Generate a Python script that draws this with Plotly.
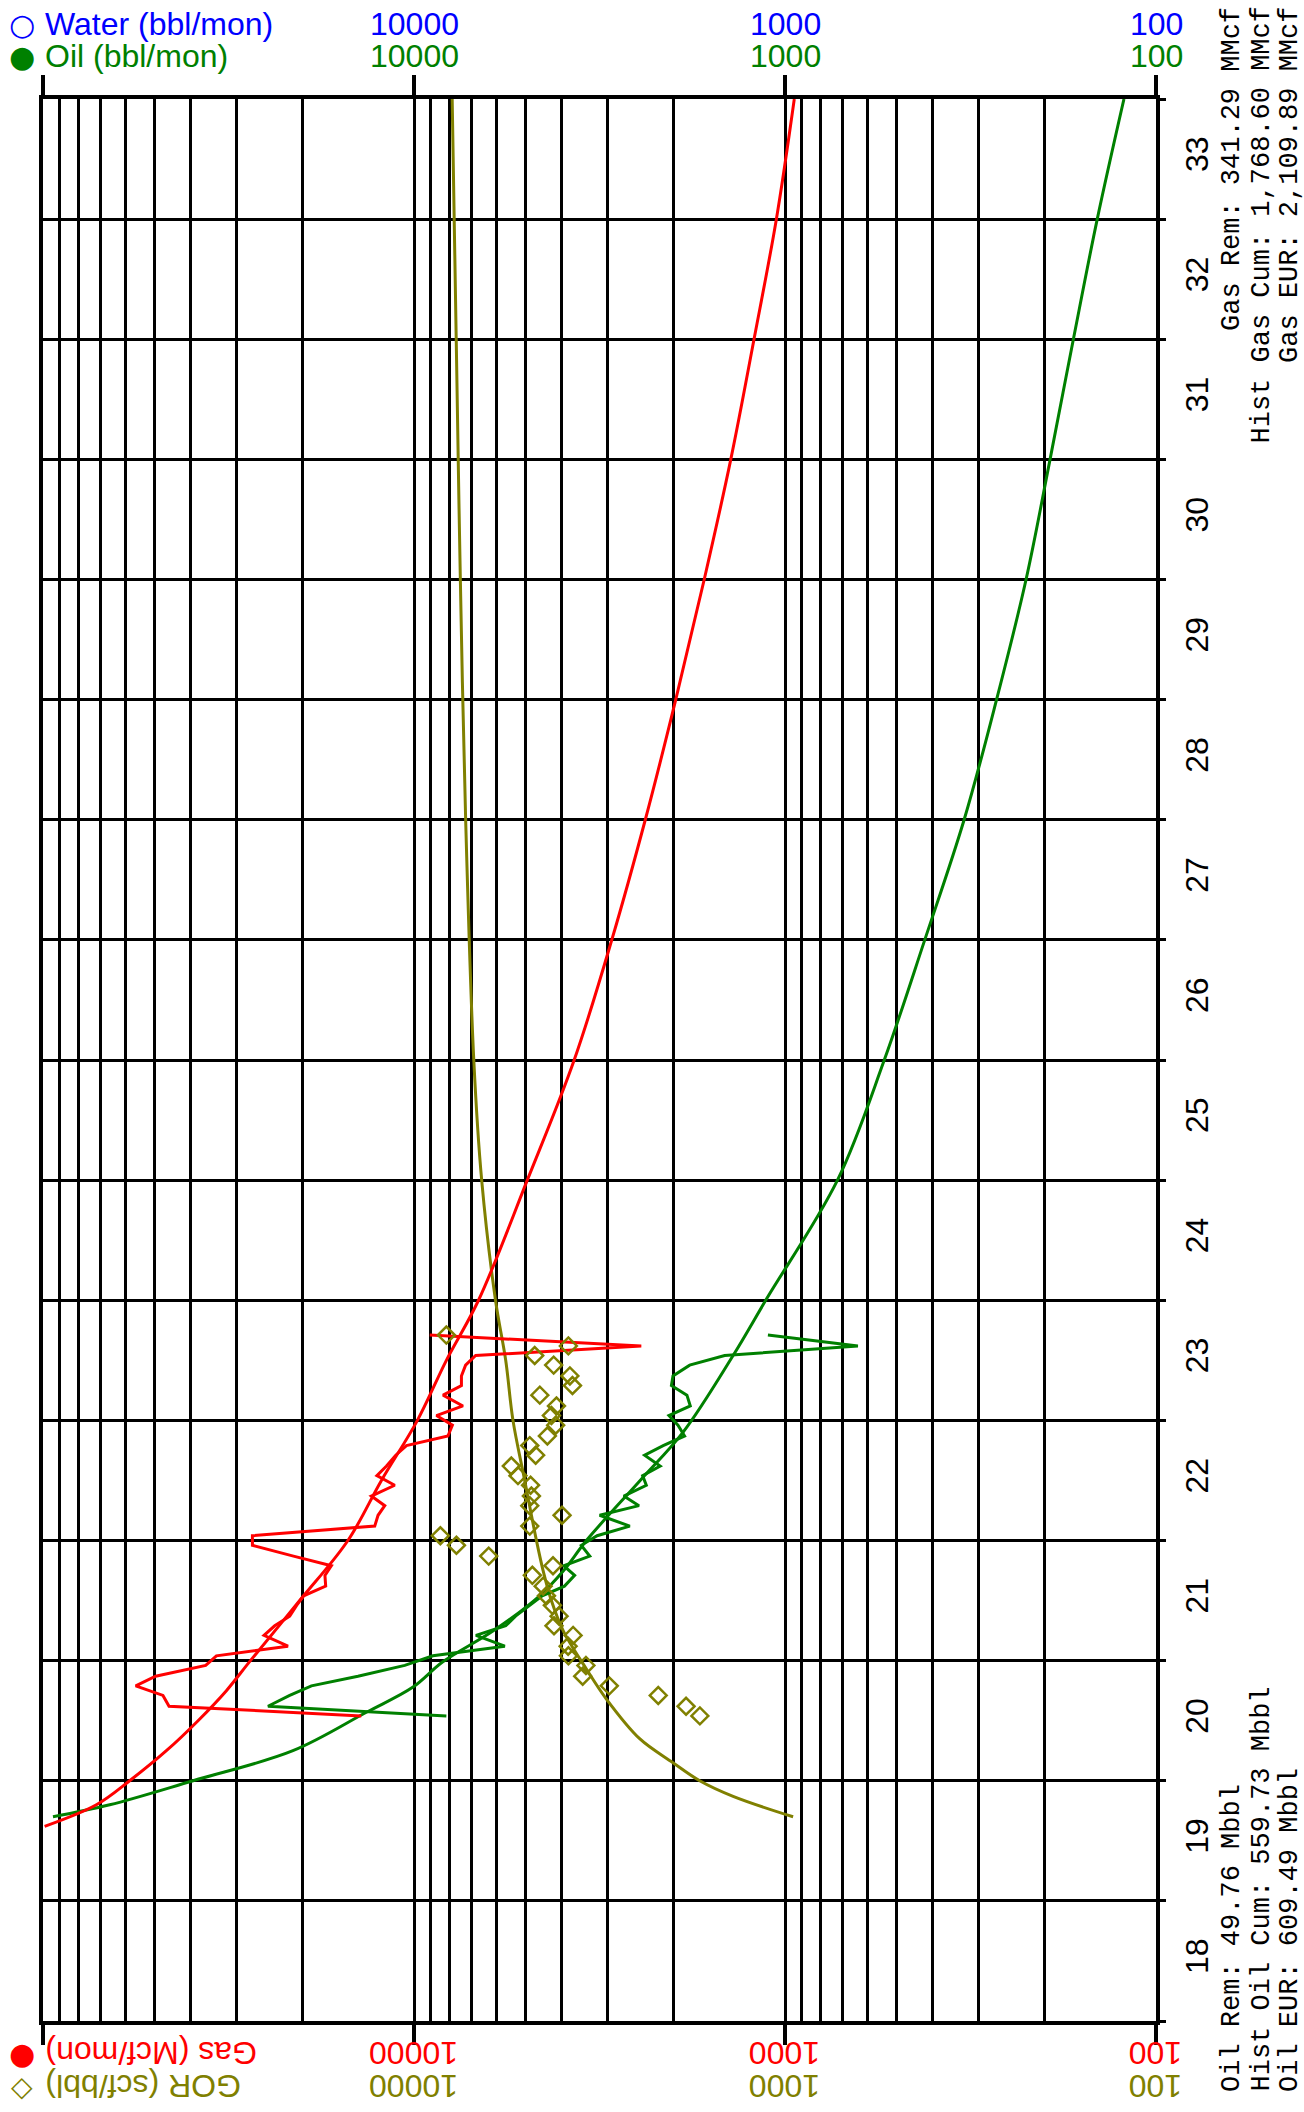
import math
import plotly.graph_objects as go

# ---------------- data (decimal year, values) ----------------
months = [20.54, 20.62, 20.71, 20.79, 20.87, 20.96, 21.04, 21.12, 21.21, 21.29,
          21.37, 21.46, 21.54, 21.62, 21.71, 21.79, 21.87, 21.96, 22.04, 22.12,
          22.21, 22.29, 22.37, 22.46, 22.54, 22.62, 22.71, 22.79, 22.87, 22.96,
          23.04, 23.12, 23.21, 23.29, 23.37, 23.46, 23.54, 23.62, 23.71]

gas_mcf = [13870, 45740, 47500, 56250, 49700, 36430, 34090, 21860, 25370, 23740,
           21630, 20720, 19830, 17300, 17380, 16700, 21130, 27260, 27260, 12760,
           12500, 11990, 13030, 11270, 12590, 11860, 11200, 10480, 8100, 7880,
           8700, 7380, 8350, 7450, 7450, 7260, 6820, 2440, 9070]

oil_bbl = [8180, 24750, 21630, 18900, 14160, 10590, 8890, 5690, 6810, 5660,
           5324, 4890, 4512, 3930, 3690, 3950, 3360, 3540, 3210, 2620,
           3160, 2475, 2720, 2365, 2420, 2170, 2390, 2130, 1865, 1943,
           2055, 1800, 1838, 2024, 2004, 1807, 1454, 636, 1112]

gor_scf = [1696, 1848, 2196, 2976, 3510, 3440, 3835, 3842, 3725, 4194,
           4063, 4237, 4395, 4486, 4797, 4220, 6290, 7685, 8490, 4875,
           3990, 4875, 4826, 4850, 5245, 5466, 4700, 4875, 4370, 4150,
           4263, 4130, 4580, 3740, 3800, 4203, 4728, 3836, 8180]

# forecast curves
gas_fit_t = [19.62, 19.8, 20.0, 20.25, 20.5, 20.75, 21.0, 21.5, 22.0, 22.5, 23.0,
             23.5, 24, 25, 26, 27, 28, 29, 30, 31, 32, 33, 34]
gas_fit = [99000, 71800, 58400, 46500, 38200, 32040, 27600, 20330, 15070, 12240, 9790,
           8180, 6700, 4950, 3700, 2930, 2380, 1970, 1651, 1400, 1212, 1055, 944]

oil_fit_t = [19.70, 19.8, 20.0, 20.25, 20.57, 20.78, 20.99, 21.25, 21.54, 21.75, 22.0,
             22.5, 22.9, 23.54, 24.01, 25, 26, 27, 28, 29, 30, 31, 32, 33, 34]
oil_fit = [94000, 66100, 39400, 21200, 13440, 10060, 8360, 6100, 4585, 3950, 3430,
           2457, 1884, 1380, 1122, 722, 540, 420, 329, 269, 224, 193, 167, 144, 122]

gor_fit_t = [19.70, 19.87, 20.0, 20.15, 20.35, 20.68, 20.93, 21.25, 21.5, 21.75, 22.0,
             22.5, 23.0, 23.5, 24, 25, 26, 28, 30, 32, 34]
gor_fit = [951, 1380, 1698, 2004, 2465, 3030, 3430, 3963, 4263, 4488, 4677,
           5030, 5410, 5660, 6030, 6570, 6900, 7257, 7500, 7695, 7890]

year_labels = ["18", "19", "20", "21", "22", "23", "24", "25", "26", "27",
               "28", "29", "30", "31", "32", "33"]
value_ticks = [100, 1000, 10000]
value_tick_text = ["100", "1000", "10000"]

oil_summary = ["Oil Rem: 49.76 Mbbl", "Hist Oil Cum: 559.73 Mbbl", "Oil EUR: 609.49 Mbbl"]
gas_summary = ["Gas Rem: 341.29 MMcf", "Hist Gas Cum: 1,768.60 MMcf", "Gas EUR: 2,109.89 MMcf"]

# ---------------- styling ----------------
RED = "#FF0000"
GREEN = "#008000"
OLIVE = "#808000"
BLUE = "#0000FF"
SANS = "Liberation Sans, Arial, sans-serif"
MONO = "Liberation Mono, Courier New, monospace"
FS = 32

fig = go.Figure()

fig.add_trace(go.Scatter(x=oil_fit, y=oil_fit_t, mode="lines", line_shape="spline",
                         line=dict(color=GREEN, width=3), showlegend=False))
fig.add_trace(go.Scatter(x=gor_fit, y=gor_fit_t, mode="lines", line_shape="spline",
                         line=dict(color=OLIVE, width=3), showlegend=False))
fig.add_trace(go.Scatter(x=gas_fit, y=gas_fit_t, mode="lines", line_shape="spline",
                         line=dict(color=RED, width=3), showlegend=False))
fig.add_trace(go.Scatter(x=oil_bbl, y=months, mode="lines",
                         line=dict(color=GREEN, width=3), showlegend=False))
fig.add_trace(go.Scatter(x=gas_mcf, y=months, mode="lines",
                         line=dict(color=RED, width=3), showlegend=False))
fig.add_trace(go.Scatter(x=gor_scf, y=months, mode="markers",
                         marker=dict(symbol="diamond-open", size=13, color=OLIVE,
                                     line=dict(width=2.5, color=OLIVE)),
                         showlegend=False))

minor_vals = [m * 10 ** e for e in (2, 3, 4) for m in range(2, 10)]

fig.update_xaxes(type="log", range=[5, 2], automargin=False,
                 tickvals=value_ticks + [100000], showticklabels=False,
                 showgrid=True, gridcolor="black", gridwidth=2.5,
                 ticks="outside", ticklen=20, tickwidth=3.5, tickcolor="black",
                 showline=True, linecolor="black", linewidth=4, mirror="ticks",
                 zeroline=False,
                 minor=dict(tickvals=minor_vals, showgrid=True, gridcolor="black",
                            gridwidth=2.5, ticks=""))

fig.update_yaxes(range=[18, 34], side="right", automargin=False,
                 tickvals=[y + 0.5 for y in range(18, 34)], ticktext=year_labels,
                 tickangle=-90, tickfont=dict(family=SANS, size=FS, color="black"),
                 ticklabelstandoff=10,
                 showgrid=False, ticks="",
                 showline=True, linecolor="black", linewidth=4, mirror=True,
                 zeroline=False,
                 minor=dict(tick0=18, dtick=1, showgrid=True, gridcolor="black",
                            gridwidth=2.5, ticks="outside", ticklen=6, tickwidth=2.5,
                            tickcolor="black"))

TOP1, TOP2 = 75, 43
BOT1, BOT2 = -32, -65

ann = []
# top value labels (water / oil) and bottom labels (gas / GOR, upside down)
for v, txt in zip(value_ticks, value_tick_text):
    ann.append(dict(x=math.log10(v), xref="x", y=1, yref="paper", yshift=TOP1,
                    text=txt, showarrow=False, xanchor="center", yanchor="middle",
                    font=dict(family=SANS, size=FS, color=BLUE)))
    ann.append(dict(x=math.log10(v), xref="x", y=1, yref="paper", yshift=TOP2,
                    text=txt, showarrow=False, xanchor="center", yanchor="middle",
                    font=dict(family=SANS, size=FS, color=GREEN)))
    ann.append(dict(x=math.log10(v), xref="x", y=0, yref="paper", yshift=BOT1,
                    text=txt, showarrow=False, xanchor="center", yanchor="middle",
                    textangle=180, font=dict(family=SANS, size=FS, color=RED)))
    ann.append(dict(x=math.log10(v), xref="x", y=0, yref="paper", yshift=BOT2,
                    text=txt, showarrow=False, xanchor="center", yanchor="middle",
                    textangle=180, font=dict(family=SANS, size=FS, color=OLIVE)))

# legend-like labels
ann += [
    dict(x=0, xref="paper", y=1, yref="paper", xshift=-21, yshift=TOP1, text="○",
         showarrow=False, xanchor="center", yanchor="middle",
         font=dict(family="DejaVu Sans", size=30, color=BLUE)),
    dict(x=0, xref="paper", y=1, yref="paper", yshift=TOP1, text="Water (bbl/mon)",
         showarrow=False, xanchor="left", yanchor="middle",
         font=dict(family=SANS, size=FS, color=BLUE)),
    dict(x=0, xref="paper", y=1, yref="paper", xshift=-21, yshift=TOP2, text="●",
         showarrow=False, xanchor="center", yanchor="middle",
         font=dict(family="DejaVu Sans", size=30, color=GREEN)),
    dict(x=0, xref="paper", y=1, yref="paper", yshift=TOP2, text="Oil (bbl/mon)",
         showarrow=False, xanchor="left", yanchor="middle",
         font=dict(family=SANS, size=FS, color=GREEN)),
    dict(x=0, xref="paper", y=0, yref="paper", xshift=-21, yshift=BOT1, text="●",
         showarrow=False, xanchor="center", yanchor="middle",
         font=dict(family="DejaVu Sans", size=30, color=RED)),
    dict(x=0, xref="paper", y=0, yref="paper", yshift=BOT1, text="Gas (Mcf/mon)",
         showarrow=False, xanchor="left", yanchor="middle", textangle=180,
         font=dict(family=SANS, size=FS, color=RED)),
    dict(x=0, xref="paper", y=0, yref="paper", xshift=-21, yshift=BOT2, text="◇",
         showarrow=False, xanchor="center", yanchor="middle",
         font=dict(family="DejaVu Sans", size=28, color=OLIVE)),
    dict(x=0, xref="paper", y=0, yref="paper", yshift=BOT2, text="GOR (scf/bbl)",
         showarrow=False, xanchor="left", yanchor="middle", textangle=180,
         font=dict(family=SANS, size=FS, color=OLIVE)),
]

# summary text on the right, rotated
col_shift = [76, 105, 134]
for i, txt in enumerate(oil_summary):
    ann.append(dict(x=1, xref="paper", y=0, yref="paper", xshift=col_shift[i], yshift=-73,
                    text=txt, showarrow=False, textangle=-90,
                    xanchor="center", yanchor="bottom",
                    font=dict(family=MONO, size=27, color="black")))
for i, txt in enumerate(gas_summary):
    ann.append(dict(x=1, xref="paper", y=1, yref="paper", xshift=col_shift[i], yshift=94,
                    text=txt, showarrow=False, textangle=-90,
                    xanchor="center", yanchor="top",
                    font=dict(family=MONO, size=27, color="black")))

fig.update_layout(width=1304, height=2112,
                  margin=dict(l=43, r=148, t=99, b=91),
                  paper_bgcolor="white", plot_bgcolor="white",
                  showlegend=False, annotations=ann)

# remove the default 8px page margin so the figure fills the window exactly
fig.write_html("out.html",
               config={"displayModeBar": False},
               post_script="document.body.style.margin='0';"
                           "document.body.style.overflow='hidden';")
